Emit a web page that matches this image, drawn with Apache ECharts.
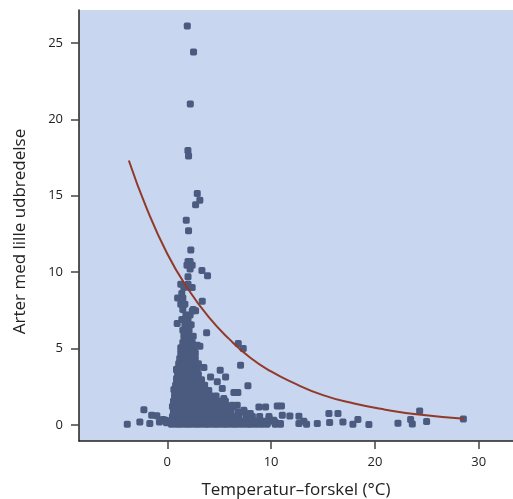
<!DOCTYPE html>
<html>
<head>
<meta charset="utf-8">
<script src="https://cdn.jsdelivr.net/npm/echarts@6/dist/echarts.min.js"></script>
<style>html,body{margin:0;padding:0;background:#fff;}#c{width:513px;height:499px;}</style>
</head>
<body>
<div id="c"></div>
<script>
// Axis tick labels
const xTicks = [0, 10, 20, 30];
const yTicks = [0, 5, 10, 15, 20, 25];
const xTitle = 'Temperatur–forskel (°C)';
const yTitle = 'Arter med lille udbredelse';

// Fitted curve
const curveX = [-3.7, -2, 0, 2, 4, 6, 8, 10, 12, 15, 18, 21, 24, 28.6];
const curveY = [17.3, 14.2, 11.2, 8.9, 7.05, 5.6, 4.4, 3.5, 2.8, 1.95, 1.4, 1.0, 0.7, 0.4];

// Dense core of points, row by row: [y, [x values]]
const coreRows = [
  [0.05, [0.4,0.9,1.3,1.8,2.2,2.7,3.1,3.6,4.0,4.5,4.9,5.4,5.8,6.3,6.7,7.2,7.7,8.1,8.6,9.1,9.6,10.4,10.9]],
  [0.25, [0.6,1.1,1.5,2.0,2.4,2.9,3.3,3.8,4.2,4.7,5.1,5.6,6.0,6.5,7.0,7.4,7.9,8.4,8.8,9.4,10.2]],
  [0.55, [0.5,1.0,1.6,2.1,2.5,3.0,3.5,3.9,4.4,4.9,5.3,5.9,6.4,6.9,7.6,8.2,8.9,9.8]],
  [0.85, [0.6,1.2,1.7,2.3,2.8,3.2,3.7,4.1,4.6,5.0,5.5,6.1,6.8,7.4]],
  [1.2,  [0.5,1.0,1.5,1.9,2.4,2.9,3.4,3.9,4.3,4.8,5.3,5.8,6.3]],
  [1.55, [0.6,1.1,1.6,2.1,2.6,3.0,3.5,4.0,4.5,5.1,5.6]],
  [1.9,  [0.7,1.2,1.5,2.0,2.4,2.9,3.3,3.8,4.2,4.7]],
  [2.25, [0.7,1.2,1.7,2.2,2.7,3.1,3.6,4.0]],
  [2.6,  [0.8,1.3,1.8,2.3,2.8,3.2,3.6]],
  [2.95, [0.9,1.4,1.9,2.4,2.9,3.3]],
  [3.3,  [1.0,1.5,2.0,2.5,3.0]],
  [3.65, [0.9,1.4,1.9,2.4,2.9]],
  [4.0,  [1.1,1.6,2.1,2.6,3.0]],
  [4.35, [1.2,1.7,2.2,2.7]],
  [4.7,  [1.3,1.8,2.3,2.7]],
  [5.05, [1.3,1.8,2.1,2.6]],
  [5.4,  [1.5,1.9,2.4]],
  [5.8,  [1.6,2.0,2.5]],
  [6.2,  [1.5,2.1]],
  [6.55, [1.7,2.3]],
  [6.9,  [1.4,2.0]],
  [7.2,  [1.8,2.2]],
  [7.55, [1.5,2.5]],
  [7.9,  [1.3,1.7]],
  [8.3,  [1.0,1.5]],
  [8.6,  [1.4]],
  [9.0,  [1.6,2.2,2.4]],
  [9.2,  [1.3,2.0]],
  [9.7,  [2.0]],
  [10.2, [2.2]],
  [10.45,[1.9,2.4]],
  [10.7, [2.0,2.2]]
];

// Scattered points around the core
const looseCore = [
  [3.34,10.1],[3.88,9.76],[3.37,8.1],[2.41,7.45],[2.73,7.47],[0.96,6.64],[3.79,6.03],
  [2.89,5.22],[3.14,5.15],[6.84,5.33],[7.32,5.0],[7.06,3.91],[3.53,3.76],[5.1,3.58],
  [4.17,3.14],[5.62,3.14],[4.82,2.82],[7.77,2.56],[5.3,2.38],[3.85,2.12],[6.42,2.12],
  [6.8,2.12],[5.45,1.73],[4.49,1.62],[0.9,3.6],[0.9,3.04],[0.64,2.32]
];

// Points left of zero
const leftPts = [
  [-3.85,0.05],[-2.64,0.2],[-2.25,1.0],[-1.68,0.09],[-1.5,0.64],[-1.0,0.6],
  [-0.75,0.2],[-0.4,0.35],[-0.16,0.3],[0.16,0.2],[-0.07,0.15]
];

// Points in the long right tail
const tailPts = [
  [8.83,1.18],[9.47,1.18],[10.6,1.24],[11.0,1.24],[11.08,0.64],[11.81,0.59],[10.43,0.16],
  [10.9,0.09],[9.63,0.09],[12.68,0.57],[12.68,0.09],[13.16,0.24],[13.42,0.05],[14.45,0.09],
  [15.57,0.75],[15.64,0.16],[16.44,0.75],[16.92,0.2],[17.88,0.05],[18.36,0.35],[19.42,0.03],
  [22.22,0.11],[23.44,0.35],[23.6,0.07],[24.31,0.92],[24.98,0.22],[28.52,0.39],
  [8.0,0.75],[9.8,0.42],[10.27,0.31],[7.38,0.96],[6.26,1.29],[6.74,1.29]
];

// Tall spike of points
const spikePts = [
  [1.93,26.1],[2.53,24.4],[2.22,21.0],[1.99,17.95],[2.05,17.6],[2.89,15.15],
  [3.14,14.7],[2.73,14.4],[1.83,13.4],[2.05,12.7],[2.27,11.45]
];

const corePts = [];
coreRows.forEach(r => r[1].forEach(x => corePts.push([x, r[0]])));
const allPts = corePts.concat(looseCore, leftPts, tailPts, spikePts);
const curveData = curveX.map((x, i) => [x, curveY[i]]);

const FONT = 'Open Sans';
const chart = echarts.init(document.getElementById('c'), null, {renderer: 'canvas'});
chart.setOption({
  animation: false,
  backgroundColor: '#ffffff',
  grid: {
    left: 79, top: 10, right: 0, bottom: 58,
    containLabel: false, outerBoundsMode: 'none',
    show: true, backgroundColor: '#c8d6ef', borderWidth: 0
  },
  xAxis: {
    type: 'value', min: -8.5, max: 33.3,
    name: xTitle, nameLocation: 'middle', nameGap: 41,
    nameTextStyle: {fontFamily: FONT, fontSize: 17, color: '#222'},
    axisLine: {show: true, onZero: false, lineStyle: {color: '#222', width: 1.5}},
    axisTick: {show: true, length: 8, customValues: xTicks, lineStyle: {color: '#444', width: 1.5}},
    axisLabel: {customValues: xTicks, margin: 15, fontFamily: FONT, fontSize: 13, color: '#222'},
    splitLine: {show: false}
  },
  yAxis: {
    type: 'value', min: -1.05, max: 27.15,
    name: yTitle, nameLocation: 'middle', nameGap: 50,
    nameTextStyle: {fontFamily: FONT, fontSize: 17, color: '#222', padding: [0, 12, 0, 0]},
    axisLine: {show: true, onZero: false, lineStyle: {color: '#222', width: 1.5}},
    axisTick: {show: true, length: 8, customValues: yTicks, lineStyle: {color: '#444', width: 1.5}},
    axisLabel: {customValues: yTicks, margin: 16, fontFamily: FONT, fontSize: 13, color: '#222'},
    splitLine: {show: false}
  },
  series: [
    {
      type: 'scatter', data: allPts, symbol: 'roundRect', symbolSize: 7,
      itemStyle: {color: '#4b5b80', opacity: 1}, z: 2
    },
    {
      type: 'line', data: curveData, smooth: true, showSymbol: false, symbol: 'none',
      lineStyle: {color: '#913a2a', width: 2}, z: 3
    }
  ]
});
</script>
</body>
</html>
